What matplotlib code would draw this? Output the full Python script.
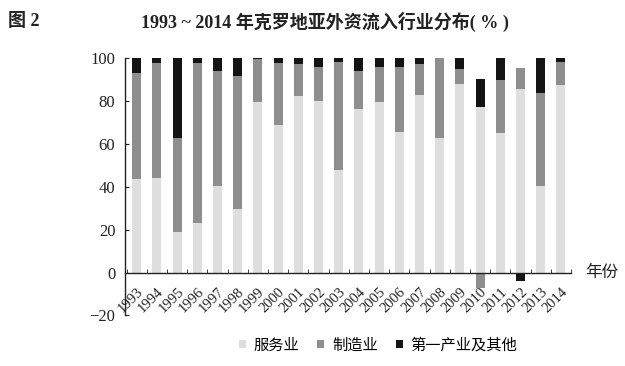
import matplotlib
matplotlib.use("Agg")
import matplotlib.pyplot as plt
from matplotlib.patches import Patch
import numpy as np

years = [str(y) for y in range(1993, 2015)]
services = [43.5, 44, 19, 23.3, 40.6, 29.7, 79.8, 68.9, 82.4, 80.2, 47.9,
            76.2, 79.8, 65.5, 82.9, 62.7, 87.9, 77.4, 65.3, 85.7, 40.4, 87.6]
manufacturing = [49.5, 54, 44, 74.7, 53.6, 62.2, 19.7, 29.1, 15.0, 15.9, 50.5,
                 17.9, 16.0, 30.6, 14.5, 37.3, 7.1, -7, 24.6, 9.6, 43.3, 10.5]
primary = [7, 2, 37, 2, 5.8, 8.1, 0.5, 2, 2.6, 3.9, 1.6,
           5.9, 4.2, 3.9, 2.6, 0, 5, 12.8, 10.1, -4, 16.3, 1.9]
legend_labels = ["服务业", "制造业", "第一产业及其他"]
title_text = "1993 ~ 2014 年克罗地亚外资流入行业分布( % )"
fig_label = "图 2"
x_axis_label = "年份"

serif_cjk = ["Liberation Serif", "Noto Sans CJK SC"]
plt.rcParams['font.family'] = serif_cjk

fig = plt.figure(figsize=(6.25, 3.66), dpi=100)
ax = fig.add_axes([0.2, 0.138, 0.7136, 0.7024])

x = np.arange(len(years))
s = np.array(services, float)
m = np.array(manufacturing, float)
p = np.array(primary, float)
colors = ["#dedede", "#8e8e8e", "#141414"]
w = 0.44

def stack_bottoms(*series):
    pos = np.zeros(len(x)); neg = np.zeros(len(x))
    out = []
    for ser in series:
        b = np.where(ser >= 0, pos, neg)
        out.append(b)
        pos = pos + np.where(ser >= 0, ser, 0)
        neg = neg + np.where(ser < 0, ser, 0)
    return out

bs, bm, bp = stack_bottoms(s, m, p)
ax.bar(x, s, w, bottom=bs, color=colors[0], zorder=2)
ax.bar(x, m, w, bottom=bm, color=colors[1], zorder=2)
ax.bar(x, p, w, bottom=bp, color=colors[2], zorder=2)

ax.set_xlim(-0.58, 21.45)
ax.set_ylim(-20, 100)
ax.spines['top'].set_visible(False)
ax.spines['right'].set_visible(False)
ax.spines['bottom'].set_position(('data', 0))
for sp in ['left', 'bottom']:
    ax.spines[sp].set_linewidth(1.0)
    ax.spines[sp].set_color('#222222')

ax.set_yticks([-20, 0, 20, 40, 60, 80, 100])
ax.set_yticklabels(["−20", "0", "20", "40", "60", "80", "100"])
ax.tick_params(axis='y', direction='in', length=3, labelsize=12, pad=7, colors='#222222')
ax.set_xticks(x)
ax.set_xticklabels(years, rotation=45, ha='right', va='top', rotation_mode='anchor', fontsize=10.5)
ax.tick_params(axis='x', which='major', length=0, pad=9, colors='#222222')
ax.set_xticks(np.arange(-0.5, 22, 1), minor=True)
ax.tick_params(axis='x', which='minor', direction='in', length=3, colors='#222222')

ax.text(22.2, 0, x_axis_label, ha='left', va='center', fontsize=12,
        family=["Noto Sans CJK SC"], color='#222222')

fig.text(0.013, 0.94, fig_label, ha='left', va='center', fontsize=13, fontweight='bold',
         family=["Liberation Serif", "Noto Sans CJK SC"], color='#222222')
fig.text(0.52, 0.94, title_text, ha='center', va='center', fontsize=13, fontweight='bold',
         family=["Liberation Serif", "Noto Sans CJK SC"], color='#222222')

handles = [Patch(facecolor=c, edgecolor='none') for c in colors]
fig.legend(handles, legend_labels, loc='center', bbox_to_anchor=(0.605, 0.057), ncol=3,
           frameon=False, handlelength=0.45, handleheight=0.45,
           handletextpad=0.5, columnspacing=1.2, prop={'family': ["Noto Sans CJK SC"], 'size': 11})

fig.savefig("out.png", dpi=100)
